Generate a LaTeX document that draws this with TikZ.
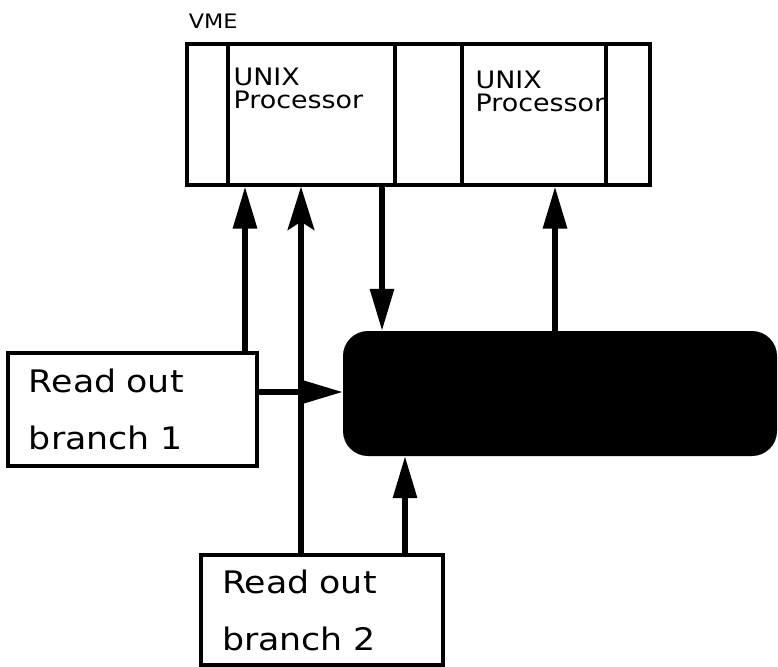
\documentclass[tikz,border=0pt]{standalone}
\usepackage{fontspec}
\newfontfamily\genevafont[FakeStretch=1.12]{DejaVu Sans}
\usetikzlibrary{arrows.meta,calc,positioning}

\begin{document}
\begin{tikzpicture}[x=0.3mm,y=-0.3mm,>=Triangle,
  card/.style={draw,line width=1mm,inner sep=0pt,minimum height=42.3mm},
  robox/.style={draw,line width=1mm,inner xsep=6.3mm,inner ysep=0pt,align=left,
    font=\genevafont\fontsize{26.5}{48.7}\selectfont},
  cardtext/.style={inner sep=0pt,align=left,font=\genevafont\fontsize{20.5}{19.6}\selectfont},
  flow/.style={line width=1.6mm,-{Triangle[length=12.6mm,width=7mm]}},
  flowb/.style={line width=1.6mm,-{Stealth[length=13mm,width=8mm,inset=2.5mm]}}]
\useasboundingbox (0,0) rectangle (778,666);
\node[card,minimum width=138.9mm] (vme) at (418.5,114.5) {};
\node[card,minimum width=50.1mm] (cpuA) at (311.5,114.5) {};
\node[card,minimum width=43.2mm] (cpuB) at (534,114.5) {};
\node[cardtext,font=\genevafont\fontsize{17}{18}\selectfont,anchor=base west] (vmetxt)
  at ([xshift=1mm,yshift=4.2mm]vme.north west) {VME};
\node[cardtext,anchor=north west] (cpuAtxt) at ([xshift=2.1mm,yshift=-7.5mm]cpuA.north west) {UNIX\\Processor};
\node[cardtext,anchor=north west] (cpuBtxt) at ([xshift=4.5mm,yshift=-8.4mm]cpuB.north west) {UNIX\\Processor};
\node[robox,text width=62.1mm,minimum height=33.9mm] (rob1) at (132.5,409.5) {Read out\\branch 1};
\node[robox,text width=60mm,minimum height=33mm] (rob2) at (322,610) {Read out\\branch 2};
\node[fill=black,rounded corners=7.5mm,inner sep=0pt,minimum width=130.2mm,minimum height=37.5mm] (hub) at (560,393.5) {};
\coordinate (l1) at (245,0);
\coordinate (l2) at (301,0);
\coordinate (l3) at (382,0);
\coordinate (l4) at (555,0);
\coordinate (l5) at (405,0);
\coordinate (l6) at (0,392);
\draw[flow] (rob1.north -| l1) -- (vme.south -| l1);
\draw[flowb] (rob2.north -| l2) -- (vme.south -| l2);
\draw[flow] (vme.south -| l3) -- (hub.north -| l3);
\draw[flow] (hub.north -| l4) -- (vme.south -| l4);
\draw[flow] (rob1.east |- l6) -- (hub.west |- l6);
\draw[flow] (rob2.north -| l5) -- (hub.south -| l5);
\end{tikzpicture}
\end{document}
